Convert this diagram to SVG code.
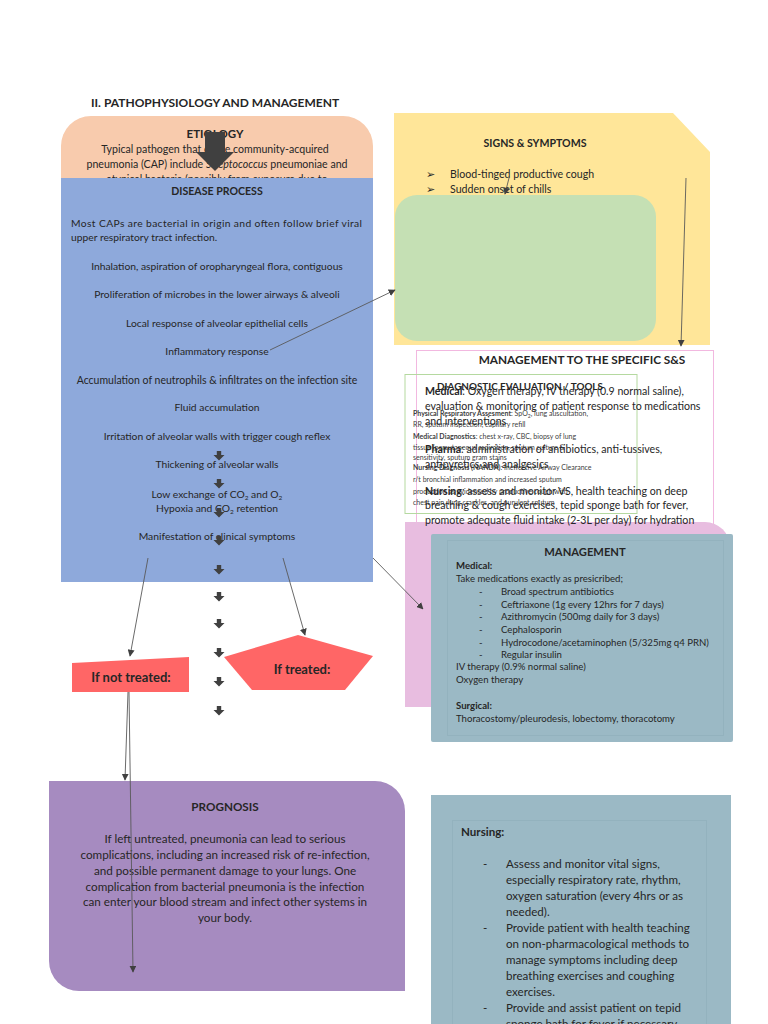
<svg xmlns="http://www.w3.org/2000/svg" width="768" height="1024" viewBox="0 0 768 1024">
<defs>
<marker id="ah" viewBox="0 0 10 10" refX="9" refY="5" markerWidth="7" markerHeight="7" orient="auto" markerUnits="userSpaceOnUse">
<path d="M0,0 L10,5 L0,10 z" fill="#404040"/>
</marker>
<path id="da" d="M-2.2,-5 h4.4 v4 h3.3 l-5.5,5.5 l-5.5,-5.5 h3.3 z" fill="#404040"/>
</defs>
<style>
text{font-family:Lato,"Liberation Sans",sans-serif;fill:#262626}
.b{font-weight:bold}
.c{text-anchor:middle}
.t10{font-size:10.3px}
.t11{font-size:10.6px}
.s7{font-size:7px;fill:#404040}
.m9{font-size:9.6px}
.n12{font-size:11.6px}
.p11{font-size:11.7px}
.ln{stroke:#595959;stroke-width:0.9;fill:none}
</style>
<rect width="768" height="1024" fill="#ffffff"/>
<text x="91" y="107" class="b" font-size="12">II. PATHOPHYSIOLOGY AND MANAGEMENT</text>

<g id="etiology">
<path d="M91,116 H343 A30,30 0 0 1 373,146 V190 H61 V146 A30,30 0 0 1 91,116 z" fill="#F8CBAD"/>
<text x="215" y="138" class="b c" font-size="11.5">ETIOLOGY</text>
<text x="215" y="153" class="c" font-size="10.6">Typical pathogen that cause community-acquired</text>
<text x="217" y="168" class="c" font-size="10.6">pneumonia (CAP) include <tspan font-style="italic">Streptococcus</tspan> pneumoniae and</text>
<text x="217" y="183" class="c" font-size="10.6">atypical bacteria (possibly from exposure due to</text>
</g>

<g id="disease-process">
<rect x="61" y="178" width="312" height="404" fill="#8EA9DB"/>
<text x="217" y="195" class="b c t11">DISEASE PROCESS</text>
<text x="71" y="227" class="t10" textLength="291" lengthAdjust="spacing">Most CAPs are bacterial in origin and often follow brief viral</text>
<text x="71" y="241" class="t10">upper respiratory tract infection.</text>
<text x="217" y="270" class="c t10">Inhalation, aspiration of oropharyngeal flora, contiguous</text>
<text x="217" y="298" class="c t10">Proliferation of microbes in the lower airways &amp; alveoli</text>
<text x="217" y="327" class="c t10">Local response of alveolar epithelial cells</text>
<text x="217" y="355" class="c t10">Inflammatory response</text>
<text x="217" y="384" class="c" font-size="10.5">Accumulation of neutrophils &amp; infiltrates on the infection site</text>
<text x="217" y="411" class="c t10">Fluid accumulation</text>
<text x="217" y="440" class="c t10">Irritation of alveolar walls with trigger cough reflex</text>
<text x="217" y="468" class="c t10">Thickening of alveolar walls</text>
<text x="217" y="498" class="c t10">Low exchange of CO<tspan font-size="6.5" dy="2">2</tspan><tspan dy="-2"> and O</tspan><tspan font-size="6.5" dy="2">2</tspan></text>
<text x="217" y="512" class="c t10">Hypoxia and CO<tspan font-size="6.5" dy="2">2</tspan><tspan dy="-2"> retention</tspan></text>
<text x="217" y="540" class="c t10">Manifestation of clinical symptoms</text>
</g>

<g id="big-arrow">
<path d="M205,132 H225 V152 H234 L215,171 L196,152 H205 z" fill="#404040"/>
</g>

<g id="signs-symptoms">
<path d="M394,113 H673 L710,152 V345 H394 z" fill="#FFE699"/>
<text x="535" y="147" class="b c t11">SIGNS &amp; SYMPTOMS</text>
<text x="426" y="178" font-size="10.6">➢</text>
<text x="450" y="178" class="t11">Blood-tinged productive cough</text>
<text x="426" y="193" font-size="10.6">➢</text>
<text x="450" y="193" class="t11">Sudden onset of chills</text>
</g>

<g id="green-box">
<rect x="395" y="195" width="261" height="146" rx="22" fill="#C5E0B4"/>
</g>

<g id="management-ss">
<rect x="416.5" y="350.5" width="297" height="180" fill="none" stroke="#F2B8E0" stroke-width="1"/>
</g>

<g id="pink-box">
<path d="M405,522 H705 A25,25 0 0 1 730,547 V707 H405 z" fill="#E8BDE0"/>
</g>

<g id="diagnostic">
<rect x="405" y="374.5" width="232" height="139" fill="none" stroke="#B5D9A0" stroke-width="1"/>
<text x="520" y="390" class="b c" font-size="9.9">DIAGNOSTIC EVALUATION / TOOLS</text>
<text x="413" y="416" class="s7"><tspan class="b">Physical Respiratory Assesment</tspan>: SpO<tspan font-size="5" dy="1.5">2</tspan><tspan dy="-1.5">, lung auscultation,</tspan></text>
<text x="413" y="427" class="s7">RR, sputum inspection, capillary refill</text>
<text x="413" y="439" class="s7"><tspan class="b">Medical Diagnostics</tspan>: chest x-ray, CBC, biopsy of lung</text>
<text x="413" y="450" class="s7">tissue (percutaneous aspiration, sputum culture &amp;</text>
<text x="413" y="460" class="s7">sensitivity, sputum gram stains</text>
<text x="413" y="470" class="s7"><tspan class="b">Nursing Diagnosis (NANDA)</tspan>: Ineffective Airway Clearance</text>
<text x="413" y="482" class="s7">r/t bronchial inflammation and increased sputum</text>
<text x="413" y="494" class="s7">production as evidenced by productive cough with</text>
<text x="413" y="505" class="s7">chest pain, lung crackles, and purulent sputum</text>
</g>

<g id="management-ss-text">
<text x="582" y="364" class="b c" font-size="11.8">MANAGEMENT TO THE SPECIFIC S&amp;S</text>
<text x="425" y="395" class="t11"><tspan class="b">Medical</tspan>: Oxygen therapy, IV therapy (0.9 normal saline),</text>
<text x="425" y="410" class="t11">evaluation &amp; monitoring of patient response to medications</text>
<text x="425" y="425" class="t11">and interventions</text>
<text x="425" y="453" class="t11"><tspan class="b">Pharma</tspan>: administration of antibiotics, anti-tussives,</text>
<text x="425" y="468" class="t11">antipyretics and analgesics</text>
<text x="425" y="495" class="t11"><tspan class="b">Nursing</tspan>: assess and monitor VS, health teaching on deep</text>
<text x="425" y="509" class="t11">breathing &amp; cough exercises, tepid sponge bath for fever,</text>
<text x="425" y="524" class="t11">promote adequate fluid intake (2-3L per day) for hydration</text>
</g>

<g id="management">
<rect x="431" y="534" width="302" height="208" rx="2" fill="#9BB9C5"/>
<rect x="447.5" y="540.5" width="276" height="195" fill="none" stroke="#93B2BE" stroke-width="1"/>
<text x="585" y="556" class="b c" font-size="11.2">MANAGEMENT</text>
<text x="456" y="569" class="b m9">Medical:</text>
<text x="456" y="582" class="m9">Take medications exactly as presicribed;</text>
<text x="479" y="595" class="m9">-</text><text x="501" y="595" class="m9">Broad spectrum antibiotics</text>
<text x="479" y="608" class="m9">-</text><text x="501" y="608" class="m9">Ceftriaxone (1g every 12hrs for 7 days)</text>
<text x="479" y="620" class="m9">-</text><text x="501" y="620" class="m9">Azithromycin (500mg daily for 3 days)</text>
<text x="479" y="633" class="m9">-</text><text x="501" y="633" class="m9">Cephalosporin</text>
<text x="479" y="646" class="m9">-</text><text x="501" y="646" class="m9">Hydrocodone/acetaminophen (5/325mg q4 PRN)</text>
<text x="479" y="658" class="m9">-</text><text x="501" y="658" class="m9">Regular insulin</text>
<text x="456" y="670" class="m9">IV therapy (0.9% normal saline)</text>
<text x="456" y="683" class="m9">Oxygen therapy</text>
<text x="456" y="709" class="b m9">Surgical:</text>
<text x="456" y="722" class="m9">Thoracostomy/pleurodesis, lobectomy, thoracotomy</text>
</g>

<g id="if-not-treated">
<path d="M72,663 L189,657 V692 H72 z" fill="#FF6666"/>
<text x="131" y="682" class="b c" font-size="13">If not treated:</text>
</g>

<g id="if-treated">
<path d="M298,635 L373,656 L345,690 H252 L224,657 z" fill="#FF6666"/>
<text x="302" y="674" class="b c" font-size="13">If treated:</text>
</g>

<g id="prognosis">
<path d="M49,781 H375 A30,30 0 0 1 405,811 V991 H79 A30,30 0 0 1 49,961 z" fill="#A68BC0"/>
<text x="225" y="811" class="b c p11">PROGNOSIS</text>
<text x="225" y="843" class="c p11">If left untreated, pneumonia can lead to serious</text>
<text x="225" y="859" class="c p11">complications, including an increased risk of re-infection,</text>
<text x="225" y="875" class="c p11">and possible permanent damage to your lungs. One</text>
<text x="225" y="891" class="c p11">complication from bacterial pneumonia is the infection</text>
<text x="225" y="906" class="c p11">can enter your blood stream and infect other systems in</text>
<text x="225" y="922" class="c p11">your body.</text>
</g>

<g id="nursing">
<rect x="431" y="795" width="300" height="240" fill="#9BB9C5"/>
<rect x="452.5" y="820.5" width="254" height="220" fill="none" stroke="#93B2BE" stroke-width="1"/>
<text x="461" y="836" class="b n12">Nursing:</text>
<text x="483" y="868" class="n12">-</text>
<text x="506" y="868" class="n12">Assess and monitor vital signs,</text>
<text x="506" y="884" class="n12">especially respiratory rate, rhythm,</text>
<text x="506" y="900" class="n12">oxygen saturation (every 4hrs or as</text>
<text x="506" y="916" class="n12">needed).</text>
<text x="483" y="932" class="n12">-</text>
<text x="506" y="932" class="n12">Provide patient with health teaching</text>
<text x="506" y="948" class="n12">on non-pharmacological methods to</text>
<text x="506" y="964" class="n12">manage symptoms including deep</text>
<text x="506" y="980" class="n12">breathing exercises and coughing</text>
<text x="506" y="996" class="n12">exercises.</text>
<text x="483" y="1012" class="n12">-</text>
<text x="506" y="1012" class="n12">Provide and assist patient on tepid</text>
<text x="506" y="1028" class="n12">sponge bath for fever if necessary.</text>
</g>

<g id="connectors">
<use href="#da" x="219" y="456"/>
<use href="#da" x="219" y="484"/>
<use href="#da" x="219" y="513"/>
<use href="#da" x="219" y="541"/>
<use href="#da" x="219" y="570"/>
<use href="#da" x="219" y="597"/>
<use href="#da" x="219" y="624"/>
<use href="#da" x="219" y="653"/>
<use href="#da" x="219" y="682"/>
<use href="#da" x="219" y="711"/>
<line class="ln" x1="270" y1="350" x2="395" y2="290" marker-end="url(#ah)"/>
<line class="ln" x1="509" y1="178" x2="505" y2="194" marker-end="url(#ah)"/>
<line class="ln" x1="686" y1="178" x2="681" y2="346" marker-end="url(#ah)"/>
<line class="ln" x1="373" y1="558" x2="423" y2="609" marker-end="url(#ah)"/>
<line class="ln" x1="148" y1="558" x2="130" y2="656" marker-end="url(#ah)"/>
<line class="ln" x1="283" y1="558" x2="305" y2="635" marker-end="url(#ah)"/>
<line class="ln" x1="128" y1="692" x2="125" y2="780" marker-end="url(#ah)"/>
<line class="ln" x1="129" y1="692" x2="133" y2="972" marker-end="url(#ah)"/>
</g>
</svg>
